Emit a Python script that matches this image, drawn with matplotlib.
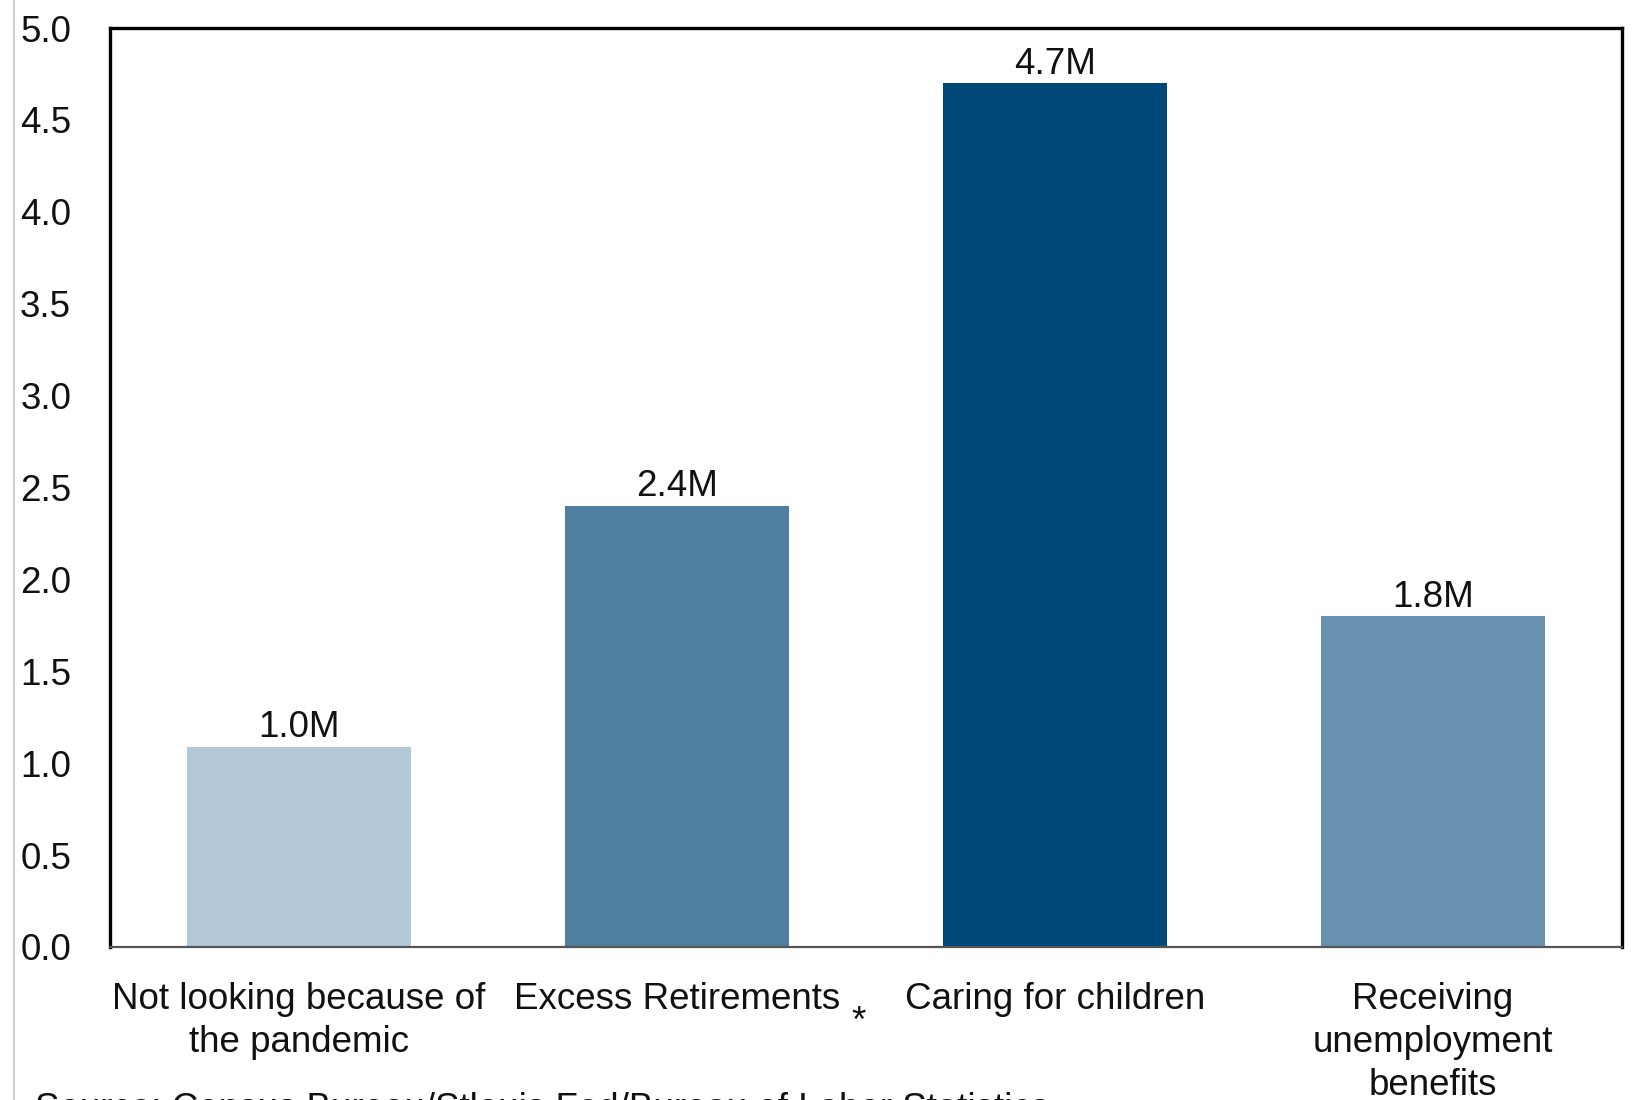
import matplotlib
matplotlib.use("Agg")
import matplotlib.pyplot as plt
from matplotlib.lines import Line2D

categories = ["Not looking because of\nthe pandemic", "Excess Retirements", "Caring for children",
              "Receiving\nunemployment\nbenefits"]
values = [1.09, 2.40, 4.70, 1.80]
value_labels = ["1.0M", "2.4M", "4.7M", "1.8M"]
colors = ["#B3C8D6", "#4F80A2", "#004878", "#6891B1"]
yticks = [0.0, 0.5, 1.0, 1.5, 2.0, 2.5, 3.0, 3.5, 4.0, 4.5, 5.0]
source = "Source: Census Bureau/Stlouis Fed/Bureau of Labor Statistics"

plt.rcParams['font.family'] = ['Liberation Sans', 'DejaVu Sans']
FS = 26.5

fig = plt.figure(figsize=(16.32, 11.0), dpi=100)
ax = fig.add_axes([110 / 1632, 1 - 947 / 1100, (1622 - 110) / 1632, (947 - 28) / 1100])

x = list(range(len(categories)))
bars = ax.bar(x, values, width=0.59, color=colors, zorder=2)
for b, lab in zip(bars, value_labels):
    ax.annotate(lab, (b.get_x() + b.get_width() / 2, b.get_height()), xytext=(0, 1),
                textcoords="offset points", ha="center", va="bottom", fontsize=FS, color="#111111")

ax.set_xlim(-0.5, 3.5)
ax.set_ylim(0, 5.0)
ax.set_yticks(yticks)
ax.set_yticklabels([f"{t:.1f}" for t in yticks], fontsize=FS, color="#111111")
ax.set_xticks(x)
ax.set_xticklabels(categories, fontsize=FS, color="#111111", linespacing=1.3)
ax.tick_params(axis="both", length=0)
ax.tick_params(axis="y", pad=28)
ax.tick_params(axis="x", pad=25)

for s in ["left", "top", "right"]:
    ax.spines[s].set_linewidth(2.4)
    ax.spines[s].set_color("black")
ax.spines["bottom"].set_linewidth(1.6)
ax.spines["bottom"].set_color("#555555")

# asterisk next to "Excess Retirements"
fig.text(859 / 1632, 1 - 1022 / 1100, "*", fontsize=FS, ha="center", va="center", color="#111111")

# source line (partially cut off at bottom, as in the reference)
fig.text(35 / 1632, 1 - 1092 / 1100, source, fontsize=FS, ha="left", va="top", color="#111111")

# thin gray vertical line at left edge
fig.add_artist(Line2D([13.5 / 1632, 13.5 / 1632], [0, 1], transform=fig.transFigure,
                      color="#c8c8c8", linewidth=1.2))

fig.savefig("out.png", dpi=100)
